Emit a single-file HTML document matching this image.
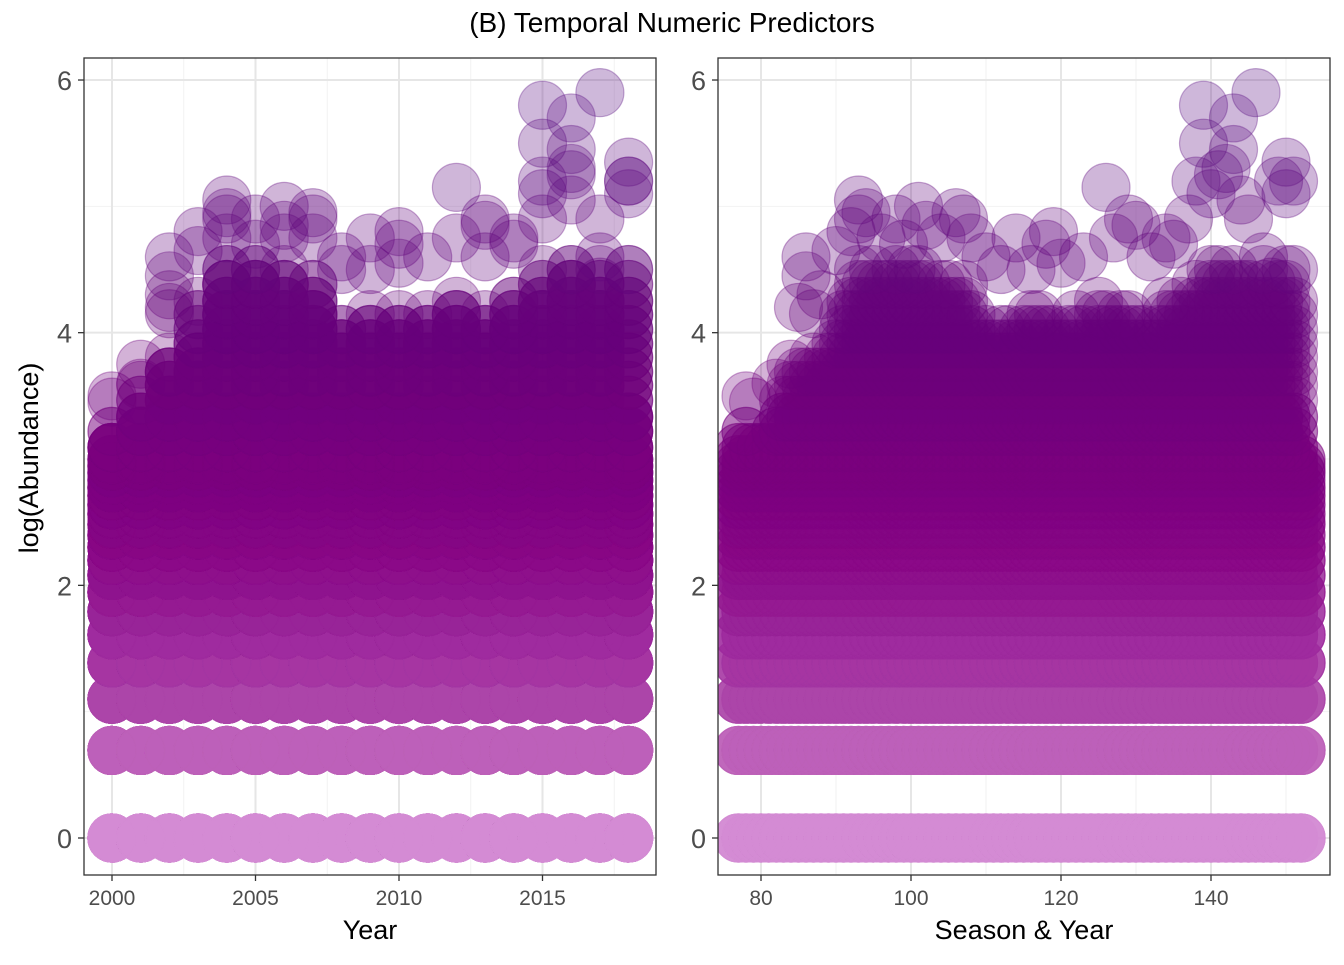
<!DOCTYPE html>
<html><head><meta charset="utf-8"><style>
body{margin:0;background:#fff}
svg text{font-family:"Liberation Sans",Arial,sans-serif}
</style></head><body>
<svg id="chart" width="1344" height="960" xmlns="http://www.w3.org/2000/svg">
<text x="672" y="32" font-size="28" text-anchor="middle" fill="#000">(B) Temporal Numeric Predictors</text>
<defs>
<clipPath id="clipL"><rect x="84" y="58" width="572" height="817"/></clipPath>
<clipPath id="clipR"><rect x="718" y="58" width="612" height="817"/></clipPath>
</defs>
<g id="gridL"></g>
<g id="gridR"></g>
<g id="ptsL" clip-path="url(#clipL)"></g>
<g id="ptsR" clip-path="url(#clipR)"></g>
<g id="axes"></g>
<text transform="translate(38,458) rotate(-90)" font-size="27" text-anchor="middle" fill="#000">log(Abundance)</text>
<text x="370" y="939" font-size="27" text-anchor="middle" fill="#000">Year</text>
<text x="1024" y="939" font-size="27" text-anchor="middle" fill="#000">Season &amp; Year</text>
</svg>
<script>
const seasonStart = 77;
const seasonTop = [3.2,3.3,3.2,3.1, 3.2,3.3,3.5,3.6, 3.8,3.7,3.9,3.8, 3.9,4.0,4.2,4.3,
 4.5,4.4,4.5,4.4, 4.4,4.5,4.4,4.5, 4.5,4.4,4.3,4.4, 4.4,4.3,4.4,4.2, 4.0,4.1,4.0,4.1,
 4.1,4.0,4.1,4.2, 4.2,4.1,4.1,4.0, 4.1,4.2,4.1,4.0, 4.3,4.2,4.1,4.2, 4.2,4.1,4.1,4.0,
 4.1,4.3,4.2,4.3, 4.2,4.4,4.3,4.5, 4.5,4.4,4.6,4.4, 4.4,4.3,4.5,4.3, 4.4,4.5,4.3,3.0];
const abundanceLevels = [1,2,3,4,5,6,7,8,9,10,11,12,13,14,15,16,17,18,19,20,22,25,28,32,36,40,45,50,56,63,70,80,90,100,115];
const levelReps = [9,8,7,6,6,5,5,4,4,4,3,3,3,3,3,3,2,2,2,2,2,2,2,1,1,1,1,1,1,1,1,1,1,1,1];
const outlierSeason = [78,79,82,84,85,86,86,87,88,90,92,93,93,94,96,98,99,101,102,104,106,107,108,110,112,114,116,118,119,120,123,126,127,129,130,132,134,135,137,138,139,139,140,141,142,143,143,144,145,146,147,148,149,150,150,151,151,152,152];
const outlierValue = [3.5,3.45,3.6,3.75,4.2,4.6,4.45,4.15,4.3,4.65,4.8,5.05,4.9,4.95,4.75,4.9,4.7,5.0,4.85,4.75,4.95,4.9,4.75,4.6,4.5,4.75,4.5,4.7,4.8,4.55,4.6,5.15,4.75,4.9,4.85,4.6,4.75,4.7,4.9,5.2,5.8,5.5,5.1,5.25,5.3,5.7,5.45,5.05,4.9,5.9,4.6,4.4,5.2,5.35,5.1,5.2,4.5,2.9,2.5];
const yTicks = [0,2,4,6];
const yearTicks = [2000,2005,2010,2015];
const seasonTicks = [80,100,120,140];

const NS="http://www.w3.org/2000/svg";
const yS = v => 838 - v*126.33;
const xL = yr => 112 + (yr-2000)*28.7;
const xR = s => 761 + (s-80)*7.5;
function mk(tag, attrs, parent){const e=document.createElementNS(NS,tag);for(const k in attrs)e.setAttribute(k,attrs[k]);parent.appendChild(e);return e;}
const stops=[[0,212,140,212],[0.7,188,96,184],[1.1,172,68,168],[1.6,158,44,158],[2.3,138,10,136],[2.8,126,0,128],[4,104,0,122],[6,92,20,132]];
function col(v){for(let i=0;i<stops.length-1;i++){const a=stops[i],b=stops[i+1];if(v<=b[0]){const t=Math.max(0,(v-a[0])/(b[0]-a[0]));return `rgb(${Math.round(a[1]+t*(b[1]-a[1]))},${Math.round(a[2]+t*(b[2]-a[2]))},${Math.round(a[3]+t*(b[3]-a[3]))})`;}}const l=stops[stops.length-1];return `rgb(${l[1]},${l[2]},${l[3]})`;}

function grid(g,x0,x1,xs,xsMinor,xf){
  mk('rect',{x:x0,y:58,width:x1-x0,height:817,fill:'#fff'},g);
  [1,3,5].forEach(v=>mk('line',{x1:x0,x2:x1,y1:yS(v),y2:yS(v),stroke:'#f2f2f2','stroke-width':1},g));
  xsMinor.forEach(v=>mk('line',{x1:xf(v),x2:xf(v),y1:58,y2:875,stroke:'#f2f2f2','stroke-width':1},g));
  yTicks.forEach(v=>mk('line',{x1:x0,x2:x1,y1:yS(v),y2:yS(v),stroke:'#e6e6e6','stroke-width':2},g));
  xs.forEach(v=>mk('line',{x1:xf(v),x2:xf(v),y1:58,y2:875,stroke:'#e6e6e6','stroke-width':2},g));
}
grid(document.getElementById('gridL'),84,656,yearTicks,[2002.5,2007.5,2012.5,2017.5],xL);
grid(document.getElementById('gridR'),718,1330,seasonTicks,[90,110,130,150],xR);

const gL=document.getElementById('ptsL'), gR=document.getElementById('ptsR');
function pt(v,s){
  const c=col(v);
  const yr=2000+Math.floor((s-seasonStart)/4);
  const a=mk('circle',{cx:xL(yr),cy:yS(v),r:24,fill:c,'fill-opacity':0.3,stroke:c,'stroke-opacity':0.35,'stroke-width':1.2},gL);
  
  
  const b=mk('circle',{cx:xR(s),cy:yS(v),r:24,fill:c,'fill-opacity':0.3,stroke:c,'stroke-opacity':0.35,'stroke-width':1.2},gR);
  
  
}
const pending=[];
seasonTop.forEach((top,i)=>{
  const s=seasonStart+i;
  abundanceLevels.forEach((k,j)=>{const v=Math.log(k);if(v<=top){for(let r=0;r<levelReps[j];r++)pending.push([v,s]);}});
});
outlierSeason.forEach((s,i)=>pending.push([outlierValue[i],s]));
pending.sort((a,b)=>a[0]-b[0]);
pending.forEach(p=>pt(p[0],p[1]));

const ax=document.getElementById('axes');
function panel(x0,x1,xs,xf,name){
  const r=mk('rect',{x:x0,y:58,width:x1-x0,height:817,fill:'none',stroke:'#333','stroke-width':1.3},ax);
  
  
  yTicks.forEach(v=>{
    mk('line',{x1:x0-6,x2:x0,y1:yS(v),y2:yS(v),stroke:'#333','stroke-width':1.3},ax);
    const t=mk('text',{x:x0-12,y:yS(v)+10,'font-size':27,'text-anchor':'end',fill:'#4d4d4d'},ax);
    t.textContent=v;
    
    
  });
  xs.forEach(v=>{
    mk('line',{x1:xf(v),x2:xf(v),y1:875,y2:881,stroke:'#333','stroke-width':1.3},ax);
    const t=mk('text',{x:xf(v),y:905,'font-size':21,'text-anchor':'middle',fill:'#4d4d4d'},ax);
    t.textContent=v;
    
    
  });
}
panel(84,656,yearTicks,xL,'left');
panel(718,1330,seasonTicks,xR,'right');
</script>
</body></html>
